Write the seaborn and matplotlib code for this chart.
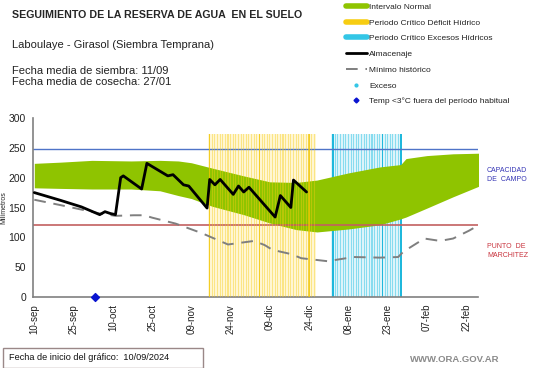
import matplotlib
matplotlib.use("Agg")
import matplotlib.pyplot as plt
from matplotlib.lines import Line2D
from matplotlib.patches import Rectangle
import numpy as np
import seaborn as sns

# days counted from 10-sep-2024 (chart start)
band_days = [0, 10, 22, 37, 48, 55, 60, 68, 80, 90, 100, 108, 120, 132, 140, 142, 150, 160, 170]
band_top = [224, 226, 229, 228, 229, 228, 225, 216, 203, 193, 192, 196, 208, 218, 222, 232, 237, 240, 241]
band_bottom = [183, 182, 181, 181, 178, 170, 165, 152, 138, 124, 113, 109, 114, 121, 131, 134, 149, 168, 186]

storage_days = [0, 10, 18, 25, 27, 29, 31, 33, 34, 41, 43, 51, 53, 57, 59, 66, 67, 69, 71,
                76, 78, 80, 82, 92, 94, 98, 99, 104]
storage_mm = [175, 162, 151, 138, 143, 140, 138, 200, 203, 181, 224, 203, 205, 188, 186, 149, 197, 188, 197,
              172, 186, 176, 184, 134, 170, 150, 196, 176]

min_days = [0, 10, 25, 31, 38, 42, 45, 54, 64, 74, 84, 88, 91, 98, 102, 112, 122, 132, 139, 141,
            149, 155, 160, 166, 170]
min_mm = [163, 154, 140, 136, 137, 137, 133, 123, 107, 88, 94, 87, 79, 72, 65, 60, 67, 66, 67, 76,
          98, 94, 98, 111, 121]

field_capacity = 248
wilting_point = 121

deficit_start, deficit_end = 67, 107
deficit_marked = [67, 86, 105]
excess_start, excess_end = 114, 140
excess_marked = [114, 133, 140]
period_height = 273

frost_days = [23]

tick_days = [0, 15, 30, 45, 60, 75, 90, 105, 120, 135, 150, 165]
tick_labels = ["10-sep", "25-sep", "10-oct", "25-oct", "09-nov", "24-nov", "09-dic",
               "24-dic", "08-ene", "23-ene", "07-feb", "22-feb"]

GREEN = "#8fc400"
YELLOW = "#f7cd12"
CYAN = "#33c6e6"

sns.set_style("white")
plt.rcParams["font.family"] = ["Liberation Sans", "DejaVu Sans"]

W, H = 541, 368
fig = plt.figure(figsize=(W / 100, H / 100), dpi=100)
ax = fig.add_axes([33 / W, 1 - 297 / H, (478 - 33) / W, (297 - 118) / H])

# excess period (under the normal band)
ax.axvspan(excess_start - 0.5, excess_end + 0.5, ymax=period_height / 300, color="#ddf4fa", lw=0, zorder=0.5)
exc = np.arange(excess_start, excess_end + 1)
ax.bar(exc, period_height, width=0.4, color=CYAN, alpha=0.5, lw=0, zorder=1)
ax.bar(excess_marked, period_height, width=0.6, color="#1fb8dc", lw=0, zorder=1.1)

# deficit period background
ax.axvspan(deficit_start - 0.5, deficit_end + 0.5, ymax=period_height / 300, color="#fff6d2", lw=0, zorder=0.5)

ax.fill_between(band_days, band_bottom, band_top, color=GREEN, lw=0, zorder=2)

ax.axhline(field_capacity, color="#4f74c8", lw=1, zorder=2.5)
ax.axhline(wilting_point, color="#c26060", lw=1.2, zorder=2.5)

dfc = np.arange(deficit_start, deficit_end + 1)
ax.bar(dfc, period_height, width=0.4, color=YELLOW, alpha=0.4, lw=0, zorder=3)
ax.bar(deficit_marked, period_height, width=0.6, color="#f0c400", alpha=0.7, lw=0, zorder=3.1)

sns.lineplot(x=min_days, y=min_mm, ax=ax, color="#7f7f7f", lw=1.4, zorder=4)
ax.lines[-1].set_dashes([6, 4])
sns.lineplot(x=storage_days, y=storage_mm, ax=ax, color="black", lw=2, zorder=5)

ax.scatter(frost_days, [0] * len(frost_days), marker="D", s=16, color="#0a14d0", zorder=6, clip_on=False)

ax.set_xlim(-0.5, 169.5)
ax.set_ylim(0, 300)
ax.set_yticks(range(0, 301, 50))
ax.set_xticks(tick_days)
ax.set_xticklabels(tick_labels, rotation=90)
ax.tick_params(axis="both", direction="out", length=3, width=1, color="#808080",
               labelsize=7.5, labelcolor="#222222", pad=2)
ax.tick_params(axis="x", labelsize=7)
for side in ["top", "right"]:
    ax.spines[side].set_visible(False)
for side in ["left", "bottom"]:
    ax.spines[side].set_color("#808080")
    ax.spines[side].set_linewidth(1.2)
ax.set_ylabel("Milímetros", fontsize=5)
ax.yaxis.set_label_coords(-0.058, 0.5)
ax.set_xlabel("")

# header texts
fig.text(12 / W, 1 - 15 / H, "SEGUIMIENTO DE LA RESERVA DE AGUA  EN EL SUELO",
         fontsize=7.7, fontweight="bold", va="center")
fig.text(12 / W, 1 - 45 / H, "Laboulaye - Girasol (Siembra Temprana)", fontsize=8, va="center", color="#222222")
fig.text(12 / W, 1 - 71 / H, "Fecha media de siembra: 11/09", fontsize=8, va="center", color="#222222")
fig.text(12 / W, 1 - 82 / H, "Fecha media de cosecha: 27/01", fontsize=8, va="center", color="#222222")

handles = [
    Line2D([], [], color=GREEN, lw=4),
    Line2D([], [], color=YELLOW, lw=4),
    Line2D([], [], color=CYAN, lw=4),
    Line2D([], [], color="black", lw=2),
    Line2D([], [], color="#7f7f7f", lw=1.4, dashes=[6, 4]),
    Line2D([], [], ls="none", marker="o", ms=2, color=CYAN),
    Line2D([], [], ls="none", marker="D", ms=2.5, color="#0a14d0"),
]
labels = ["Intervalo Normal", "Periodo Crítico Déficit Hídrico", "Periodo Crítico Excesos Hídricos",
          "Almacenaje", "Mínimo histórico", "Exceso", "Temp <3°C fuera del período habitual"]
fig.legend(handles, labels, loc="upper left", bbox_to_anchor=(346 / W, 1 - 3 / H), frameon=False,
           fontsize=6, handlelength=2.5, handletextpad=0.25, labelspacing=0.95, borderpad=0,
           borderaxespad=0, labelcolor="#222222")

fig.text(487 / W, 1 - 175 / H, "CAPACIDAD\nDE  CAMPO", fontsize=5, color="#3535b5", va="center",
         linespacing=1.5)
fig.text(487 / W, 1 - 251 / H, "PUNTO  DE\nMARCHITEZ", fontsize=5, color="#c8323c", va="center",
         linespacing=1.5)

fig.patches.append(Rectangle((3 / W, 1 - 368 / H), 200 / W, 20 / H, transform=fig.transFigure,
                             fill=False, edgecolor="#9a8888", lw=1))
fig.text(9 / W, 1 - 358 / H, "Fecha de inicio del gráfico:  10/09/2024", fontsize=6.6, va="center",
         color="#111111")
fig.text(410 / W, 1 - 360 / H, "WWW.ORA.GOV.AR", fontsize=6.8, fontweight="bold", va="center",
         color="#8a8a8a")

fig.savefig("out.png", dpi=100)
plt.close(fig)
